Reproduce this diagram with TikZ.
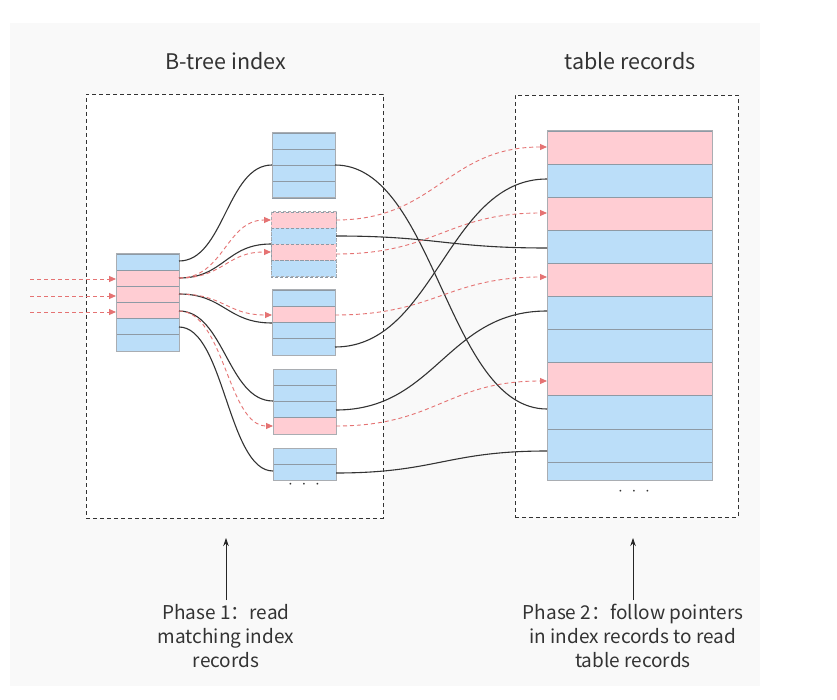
\documentclass[tikz,border=0pt]{standalone}
\usepackage{fontspec}
\setmainfont{Noto Sans CJK SC}
\usetikzlibrary{arrows.meta}
\definecolor{bgray}{HTML}{F9F9F9}
\definecolor{recblue}{HTML}{BBDEF9}
\definecolor{recpink}{HTML}{FFCDD3}
\definecolor{recline}{HTML}{8E9AA5}
\definecolor{recborder}{HTML}{A9ADB2}
\definecolor{ptrred}{HTML}{E57373}
\definecolor{txt}{HTML}{333333}
\tikzset{
  recrow/.style={draw=recline, line width=0.8pt},
  recframe/.style={draw=recborder, line width=1pt},
  groupbox/.style={draw=black!80, dash pattern=on 4pt off 3pt, line width=0.9pt, fill=white},
  ptr/.style={draw=black!80, line width=1.1pt},
  dptr/.style={draw=ptrred, line width=0.9pt, dash pattern=on 4pt off 3pt, -{Triangle[length=7pt,width=6pt]}},
  uparrow/.style={draw=black!85, line width=0.8pt, -{Stealth[length=8pt,width=5.5pt]}},
  titletext/.style={text=txt, font=\fontsize{21.5}{25}\selectfont},
  phasetext/.style={text=txt, font=\fontsize{19}{24}\selectfont, align=center},
  dotstext/.style={text=txt, font=\fontsize{17}{17}\selectfont},
}
% #1 x0, #2 y0, #3 w, #4 h, #5 n rows, #6 colours, #7 extra style
\newcommand\recblock[7]{%
  \foreach \c [count=\i from 0] in {#6} {%
    \path[recrow, fill=\c, #7] (#1,{#2+\i*#4}) rectangle ++(#3,#4);}
  \path[recframe, #7] (#1,#2) rectangle ++(#3,{#5*#4});
}
\begin{document}
\begin{tikzpicture}[x=1pt,y=-1pt]
\useasboundingbox (0,0) rectangle (837,700);
\fill[white] (0,0) rectangle (837,700);
\fill[bgray] (10,23) rectangle (760,686);

% group boxes
\node[groupbox, minimum width=297pt, minimum height=424pt, inner sep=0pt] (ibox) at (234.5,306) {};
\node[groupbox, minimum width=223pt, minimum height=422pt, inner sep=0pt] (tbox) at (626.5,306) {};

\node[titletext] (ititle) at (226,61) {B-tree index};
\node[titletext] (ttitle) at (630,61) {table records};

% root node
\recblock{116}{254}{63}{16.17}{6}{recblue,recpink,recpink,recpink,recblue,recblue}{}
% leaves
\recblock{272}{133}{63}{16.25}{4}{recblue,recblue,recblue,recblue}{}
\recblock{271}{212}{65}{16.25}{4}{recpink,recblue,recpink,recblue}{dash pattern=on 3pt off 2pt}
\recblock{272}{290}{63}{16.25}{4}{recblue,recpink,recblue,recblue}{}
\recblock{273}{369}{63}{16.25}{4}{recblue,recblue,recblue,recpink}{}
\recblock{273}{448}{63}{16}{2}{recblue,recblue}{}
\node[dotstext] (ldots) at (304,485) {$\cdot\;\cdot\;\cdot$};

% table records
\recblock{547}{131}{165}{33.1}{10}{recpink,recblue,recpink,recblue,recpink,recblue,recblue,recpink,recblue,recblue}{}
\path[recrow, fill=recblue] (547,462) rectangle (712,480);
\path[recframe] (547,131) rectangle (712,480);
\node[dotstext] (tdots) at (634,492) {$\cdot\;\cdot\;\cdot$};

% coordinates: root outputs
\coordinate (r0) at (179,261);
\coordinate (r1) at (179,278);
\coordinate (r2) at (179,294);
\coordinate (r3) at (179,311);
\coordinate (r4) at (179,327);
% leaf inputs
\coordinate (l1in) at (272,165);
\coordinate (l2inA) at (271,220);
\coordinate (l2inB) at (271,244);
\coordinate (l2inC) at (271,252);
\coordinate (l3inA) at (272,315);
\coordinate (l3inB) at (272,323);
\coordinate (l4inA) at (273,401);
\coordinate (l4inB) at (273,426);
\coordinate (l5in) at (273,471);
% leaf outputs
\coordinate (l1out) at (335,165);
\coordinate (l2outA) at (336,220);
\coordinate (l2outB) at (336,236);
\coordinate (l2outC) at (336,254);
\coordinate (l3outA) at (335,315);
\coordinate (l3outB) at (335,347);
\coordinate (l4outA) at (336,410);
\coordinate (l4outB) at (336,426);
\coordinate (l5out) at (336,473);
% table inputs
\coordinate (t147) at (547,147);
\coordinate (t179) at (547,179);
\coordinate (t213) at (547,213);
\coordinate (t248) at (547,248);
\coordinate (t277) at (547,277);
\coordinate (t311) at (547,311);
\coordinate (t381) at (547,381);
\coordinate (t409) at (547,409);
\coordinate (t451) at (547,451);
% incoming
\coordinate (in1) at (30,279);
\coordinate (in2) at (30,296);
\coordinate (in3) at (30,312);
\coordinate (rin1) at (116,279);
\coordinate (rin2) at (116,296);
\coordinate (rin3) at (116,312);

\draw[dptr] (in1) -- (rin1);
\draw[dptr] (in2) -- (rin2);
\draw[dptr] (in3) -- (rin3);

% root -> leaves
\draw[ptr] (r0) .. controls +(45,0) and +(-45,0) .. (l1in);
\draw[ptr] (r1) .. controls +(45,0) and +(-45,0) .. (l2inB);
\draw[dptr] (r1) .. controls +(45,0) and +(-45,0) .. (l2inA);
\draw[dptr] (r1) .. controls +(45,0) and +(-45,0) .. (l2inC);
\draw[ptr] (r2) .. controls +(45,0) and +(-45,0) .. (l3inB);
\draw[dptr] (r2) .. controls +(45,0) and +(-45,0) .. (l3inA);
\draw[ptr] (r3) .. controls +(45,0) and +(-45,0) .. (l4inA);
\draw[dptr] (r3) .. controls +(45,0) and +(-45,0) .. (l4inB);
\draw[ptr] (r4) .. controls +(45,0) and +(-45,0) .. (l5in);

% leaves -> table
\draw[ptr] (l1out) .. controls +(100,0) and +(-100,0) .. (t409);
\draw[dptr] (l2outA) .. controls +(100,0) and +(-100,0) .. (t147);
\draw[ptr] (l2outB) .. controls +(100,0) and +(-100,0) .. (t248);
\draw[dptr] (l2outC) .. controls +(100,0) and +(-100,0) .. (t213);
\draw[dptr] (l3outA) .. controls +(100,0) and +(-100,0) .. (t277);
\draw[ptr] (l3outB) .. controls +(100,0) and +(-100,0) .. (t179);
\draw[ptr] (l4outA) .. controls +(100,0) and +(-100,0) .. (t311);
\draw[dptr] (l4outB) .. controls +(100,0) and +(-100,0) .. (t381);
\draw[ptr] (l5out) .. controls +(100,0) and +(-100,0) .. (t451);

% phase labels
\node[phasetext] (ph1) at (226,636) {Phase 1：read\\matching index\\records};
\node[phasetext] (ph2) at (633,636) {Phase 2：follow pointers\\in index records to read\\table records};
\coordinate (ph1tip) at (226,538);
\coordinate (ph2tip) at (633,538);
\coordinate (ph1base) at (226,600);
\coordinate (ph2base) at (633,600);
\draw[uparrow] (ph1base) -- (ph1tip);
\draw[uparrow] (ph2base) -- (ph2tip);
\end{tikzpicture}
\end{document}
